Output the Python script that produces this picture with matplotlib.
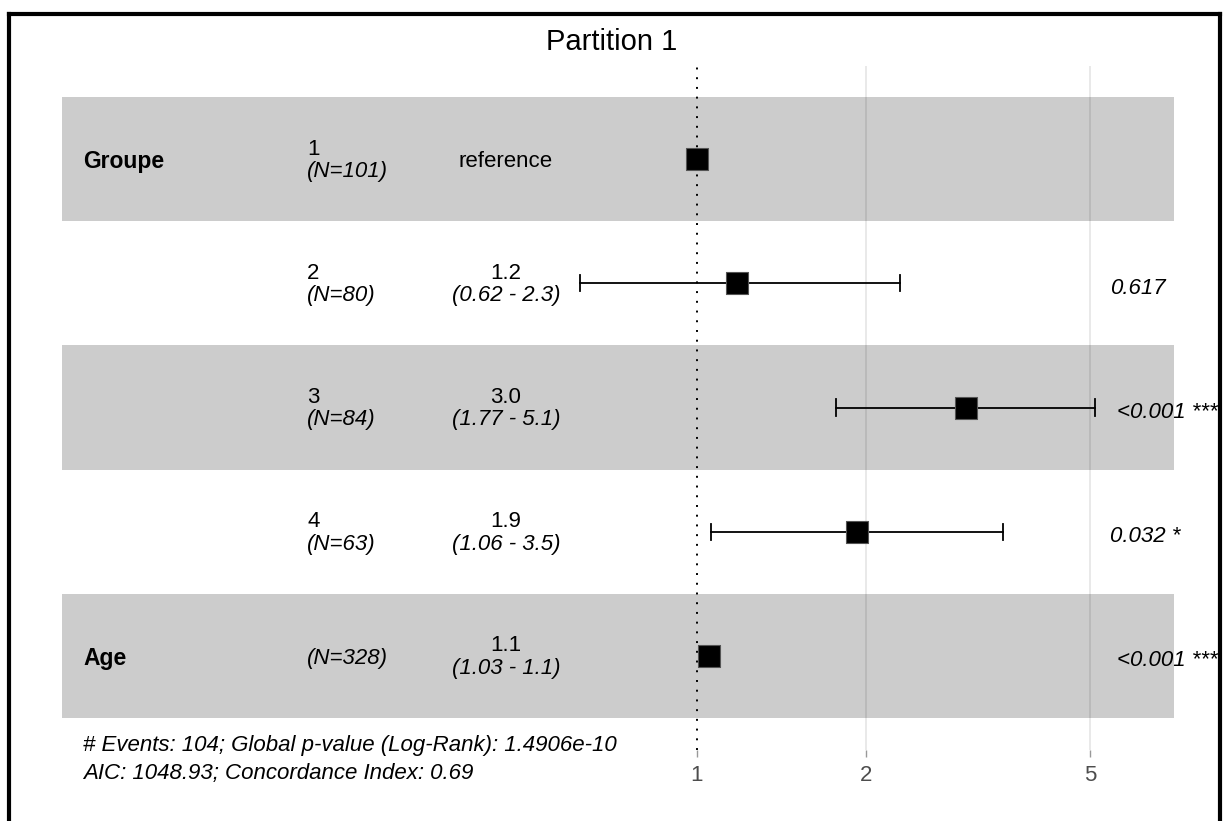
import numpy as np
import matplotlib.pyplot as plt
from matplotlib.lines import Line2D
import matplotlib.transforms as mtransforms

plt.rcParams['font.family'] = ['Liberation Sans', 'DejaVu Sans']

# data
variables = ['Groupe', '', '', '', 'Age']
levels = ['1', '2', '3', '4', '']
n_obs = [101, 80, 84, 63, 328]
hr = [1.0, 1.18, 3.01, 1.93, 1.05]
hr_low = [np.nan, 0.62, 1.77, 1.06, 1.03]
hr_high = [np.nan, 2.3, 5.1, 3.5, 1.1]
est_text = ['reference', '1.2', '3.0', '1.9', '1.1']
ci_text = ['', '(0.62 - 2.3)', '(1.77 - 5.1)', '(1.06 - 3.5)', '(1.03 - 1.1)']
p_text = ['', '0.617', '<0.001 ***', '0.032 *', '<0.001 ***']
footer = ['# Events: 104; Global p-value (Log-Rank): 1.4906e-10',
          'AIC: 1048.93; Concordance Index: 0.69']
xticks = [1, 2, 5]

W, H = 1223, 821
fig = plt.figure(figsize=(W / 100, H / 100), dpi=100)

# panel: x 62..1174 px, y 66..750 px
ax = fig.add_axes([62 / W, (H - 750) / H, (1174 - 62) / W, (750 - 66) / H])
ax.set_xscale('log')
xl = 10 ** ((62 - 697) / 562)
xr = 10 ** ((1174 - 697) / 562)
ax.set_xlim(xl, xr)
ax.set_ylim(5.758, 0.25)
for s in ax.spines.values():
    s.set_visible(False)

rows = np.arange(1, len(hr) + 1)

# shaded bands
for i, r in enumerate(rows):
    if i % 2 == 0:
        ax.axhspan(r - 0.5, r + 0.5, color='#cccccc', lw=0, zorder=0)

# grid
for t in xticks[1:]:
    ax.axvline(t, color='black', alpha=0.1, lw=1.2, zorder=1)
ax.axvline(1, color='black', ls=(0, (1, 4)), lw=1.4, zorder=2)

# error bars and points
for r, lo, hi in zip(rows, hr_low, hr_high):
    if not np.isnan(lo):
        ax.plot([lo, hi], [r, r], color='black', lw=1.3, zorder=3)
        ax.plot([lo, lo], [r - 0.065, r + 0.065], color='black', lw=1.3, zorder=3)
        ax.plot([hi, hi], [r - 0.065, r + 0.065], color='black', lw=1.3, zorder=3)
ax.scatter(hr, rows, marker='s', s=16.5 ** 2, color='black',
           edgecolors='#555555', linewidths=0.8, zorder=4)

ax.set_xticks(xticks)
ax.set_xticklabels([str(t) for t in xticks])
ax.minorticks_off()
ax.set_yticks([])
ax.tick_params(axis='x', length=5, width=1, color='#999999',
               labelcolor='#4d4d4d', labelsize=16, pad=6)

# text columns (x in figure px, y in data)
def px(x):
    return x / W

tr = mtransforms.blended_transform_factory(fig.transFigure, ax.transData)
fs = 16
off = 10 / 124
for i, r in enumerate(rows):
    if variables[i]:
        ax.text(px(83), r + 0.02, variables[i], transform=tr, fontsize=16.5,
                fontweight='bold', va='center', ha='left')
    if levels[i]:
        ax.text(px(307), r - off, levels[i], transform=tr, fontsize=fs,
                va='center', ha='left')
        ax.text(px(307), r + 0.1, '(N=%d)' % n_obs[i], transform=tr,
                fontsize=fs, style='italic', va='center', ha='left')
    else:
        ax.text(px(307), r + 0.025, '(N=%d)' % n_obs[i], transform=tr,
                fontsize=fs, style='italic', va='center', ha='left')
    if ci_text[i]:
        ax.text(px(506), r - off, est_text[i], transform=tr, fontsize=fs,
                va='center', ha='center')
        ax.text(px(506), r + 0.1, ci_text[i], transform=tr, fontsize=fs,
                style='italic', va='center', ha='center')
    else:
        ax.text(px(506), r + 0.02, est_text[i], transform=tr, fontsize=fs,
                va='center', ha='center')
    if p_text[i]:
        x0 = 1117 if p_text[i].startswith('<') else 1110
        ax.text(px(x0), r + 0.04, p_text[i], transform=tr, fontsize=fs,
                style='italic', va='center', ha='left', clip_on=False)

ax.text(px(83), 5.5 + 27 / 124, footer[0], transform=tr, fontsize=fs,
        style='italic', va='center', ha='left')
ax.text(px(83), 5.5 + 55 / 124, footer[1], transform=tr, fontsize=fs,
        style='italic', va='center', ha='left')

fig.text(0.5, 1 - 42 / H, 'Partition 1', fontsize=21, ha='center', va='center')

# outer frame
lw = 3
fig.add_artist(Line2D([px(9), px(9)], [0, 1 - 14 / H], color='black', lw=lw,
                      transform=fig.transFigure))
fig.add_artist(Line2D([px(9), px(1220)], [1 - 14 / H, 1 - 14 / H], color='black',
                      lw=lw, transform=fig.transFigure))
fig.add_artist(Line2D([px(1220), px(1220)], [0, 1 - 14 / H], color='black', lw=lw,
                      transform=fig.transFigure))

fig.savefig('out.png', dpi=100)
